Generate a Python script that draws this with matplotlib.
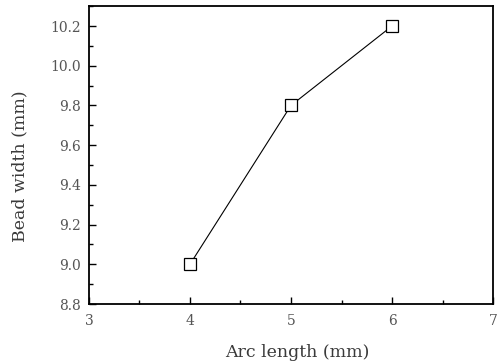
import matplotlib
matplotlib.use("Agg")
import matplotlib.pyplot as plt
from matplotlib.ticker import MultipleLocator

plt.rcParams['font.family'] = ['DejaVu Serif']

arc_length = [4, 5, 6]
bead_width = [9.0, 9.8, 10.2]

fig = plt.figure(figsize=(4.97, 3.63), dpi=100)
ax = fig.add_axes([0.179, 0.1625, 0.813, 0.8205])

ax.plot(arc_length, bead_width, color='black', linewidth=0.8,
        marker='s', markersize=9, markerfacecolor='white',
        markeredgecolor='black', markeredgewidth=0.9)

ax.set_xlim(3, 7)
ax.set_ylim(8.8, 10.3)
ax.xaxis.set_major_locator(MultipleLocator(1))
ax.xaxis.set_minor_locator(MultipleLocator(0.5))
ax.yaxis.set_minor_locator(MultipleLocator(0.1))
ax.set_yticks([8.8, 9.0, 9.2, 9.4, 9.6, 9.8, 10.0, 10.2])
ax.set_yticklabels(['8.8', '9.0', '9.2', '9.4', '9.6', '9.8', '10.0', '10.2'])

ax.tick_params(which='major', direction='in', length=5, width=1, labelsize=10,
               colors='black', labelcolor='#555555')
ax.tick_params(which='minor', direction='in', length=3, width=1)
ax.tick_params(axis='x', pad=7)
ax.tick_params(axis='y', pad=6)
for s in ax.spines.values():
    s.set_linewidth(1.3)

ax.set_xlabel('Arc length (mm)', fontsize=12.5, color='#3a3a3a')
ax.set_ylabel('Bead width (mm)', fontsize=12.5, color='#3a3a3a')
ax.xaxis.set_label_coords(0.516, -0.135)
ax.yaxis.set_label_coords(-0.15, 0.463)

fig.savefig('out.png', dpi=100)
